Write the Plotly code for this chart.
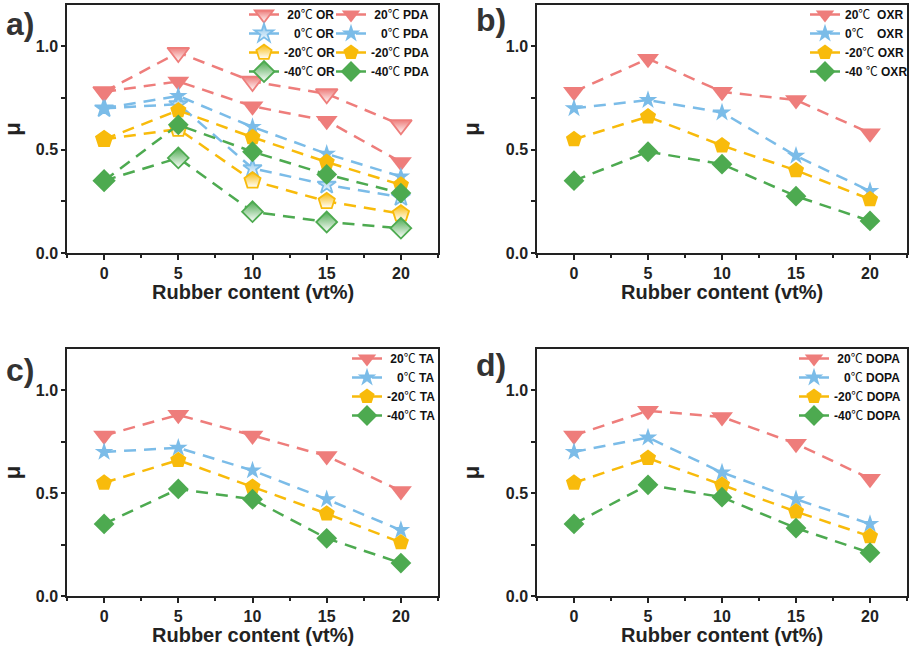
import plotly.graph_objects as go

# ---------------- data ----------------
rubber_content = [0, 5, 10, 15, 20]
x_tick_vals = [0, 5, 10, 15, 20]
y_tick_vals = [0.0, 0.5, 1.0]

# panel a) OR (half-filled markers) and PDA (filled markers)
OR_20 = [0.78, 0.97, 0.83, 0.77, 0.62]
OR_0 = [0.70, 0.72, 0.41, 0.33, 0.27]
OR_m20 = [0.55, 0.60, 0.35, 0.25, 0.19]
OR_m40 = [0.35, 0.46, 0.20, 0.15, 0.12]
PDA_20 = [0.78, 0.83, 0.71, 0.64, 0.44]
PDA_0 = [0.70, 0.76, 0.61, 0.48, 0.37]
PDA_m20 = [0.55, 0.69, 0.56, 0.44, 0.33]
PDA_m40 = [0.35, 0.62, 0.49, 0.38, 0.29]

# panel b) OXR
OXR_20 = [0.78, 0.94, 0.78, 0.74, 0.58]
OXR_0 = [0.70, 0.74, 0.68, 0.47, 0.30]
OXR_m20 = [0.55, 0.66, 0.52, 0.40, 0.26]
OXR_m40 = [0.35, 0.49, 0.43, 0.275, 0.155]

# panel c) TA
TA_20 = [0.78, 0.88, 0.78, 0.68, 0.51]
TA_0 = [0.70, 0.72, 0.61, 0.47, 0.32]
TA_m20 = [0.55, 0.66, 0.53, 0.40, 0.26]
TA_m40 = [0.35, 0.52, 0.47, 0.28, 0.16]

# panel d) DOPA
DOPA_20 = [0.78, 0.90, 0.87, 0.74, 0.57]
DOPA_0 = [0.70, 0.77, 0.60, 0.47, 0.35]
DOPA_m20 = [0.55, 0.67, 0.54, 0.41, 0.29]
DOPA_m40 = [0.35, 0.54, 0.48, 0.33, 0.21]

x_title = "Rubber content (vt%)"
y_title = "μ"
panel_labels = ["a)", "b)", "c)", "d)"]

NB = "\u00a0"
DEG = "<span style=\"font-family:Noto Sans CJK SC;font-weight:normal\">℃</span>"
labels_OR = [NB + "20" + DEG + " OR", NB * 3 + "0" + DEG + " OR", "-20" + DEG + " OR", "-40" + DEG + " OR"]
labels_PDA = [NB + "20" + DEG + " PDA", NB * 3 + "0" + DEG + " PDA", "-20" + DEG + " PDA", "-40" + DEG + " PDA"]
labels_OXR = ["20" + DEG + NB * 2 + "OXR", "0" + DEG + NB * 4 + "OXR", "-20" + DEG + NB + "OXR", "-40 " + DEG + NB + "OXR"]
labels_TA = [NB + "20" + DEG + " TA", NB * 3 + "0" + DEG + " TA", "-20" + DEG + " TA", "-40" + DEG + " TA"]
labels_DOPA = [NB + "20" + DEG + " DOPA", NB * 3 + "0" + DEG + " DOPA", "-20" + DEG + " DOPA", "-40" + DEG + " DOPA"]

# ---------------- style ----------------
colors = ["#EE7D7B", "#7BBCE8", "#F8BB0B", "#4DAA50"]
symbols = ["triangle-down", "star", "pentagon", "diamond"]
sizes = [19, 14, 17, 16]
FONT = "Liberation Sans, Arial, DejaVu Sans, sans-serif"
INK = "#222222"
W, H = 909, 646

fig = go.Figure()


def add_series(series, labels, xa, ya, legend, half=False):
    for i, (vals, name) in enumerate(zip(series, labels)):
        marker = dict(symbol=symbols[i], size=sizes[i], color=colors[i],
                      line=dict(width=0, color=colors[i]))
        if half:
            marker = dict(symbol=symbols[i], size=sizes[i], color=colors[i],
                          gradient=dict(type="vertical", color="white"),
                          line=dict(width=1.8, color=colors[i]))
        fig.add_trace(go.Scatter(
            x=rubber_content, y=vals, name=name, mode="lines+markers",
            line=dict(color=colors[i], width=2.5, dash="12px,8px"),
            marker=marker, xaxis=xa, yaxis=ya, legend=legend,
        ))


add_series([OR_20, OR_0, OR_m20, OR_m40], labels_OR, "x", "y", "legend", half=True)
add_series([PDA_20, PDA_0, PDA_m20, PDA_m40], labels_PDA, "x", "y", "legend2")
add_series([OXR_20, OXR_0, OXR_m20, OXR_m40], labels_OXR, "x2", "y2", "legend3")
add_series([TA_20, TA_0, TA_m20, TA_m40], labels_TA, "x3", "y3", "legend4")
add_series([DOPA_20, DOPA_0, DOPA_m20, DOPA_m40], labels_DOPA, "x4", "y4", "legend5")

# panel geometry in px: (left, right, top, bottom)
panels = [(67, 438, 5, 253), (537, 907, 5, 253), (67, 438, 349, 596), (537, 907, 349, 596)]


def xax(dom, anchor):
    return dict(domain=dom, anchor=anchor, range=[-2.5, 22.5], tickvals=x_tick_vals,
                ticks="outside", ticklen=5, tickwidth=1.5, tickcolor=INK,
                minor=dict(ticks="outside", dtick=2.5, tick0=0, ticklen=3, tickwidth=1.5, tickcolor=INK),
                showline=True, mirror=True, linecolor=INK, linewidth=1.5,
                showgrid=False, zeroline=False, automargin=False,
                tickfont=dict(family=FONT, size=16, color=INK, weight="bold"))


def yax(dom, anchor):
    return dict(domain=dom, anchor=anchor, range=[0, 1.2], tickvals=y_tick_vals, tickformat=".1f",
                ticks="outside", ticklen=4, tickwidth=1.5, tickcolor=INK,
                minor=dict(ticks="outside", dtick=0.25, tick0=0, ticklen=4, tickwidth=1.5, tickcolor=INK),
                showline=True, mirror=True, linecolor=INK, linewidth=1.5,
                showgrid=False, zeroline=False, automargin=False,
                tickfont=dict(family=FONT, size=16, color=INK, weight="bold"),
                title=dict(text=y_title, standoff=20,
                           font=dict(family=FONT, size=22, color=INK, weight="bold")))


layout = dict(width=W, height=H, margin=dict(l=0, r=0, t=0, b=0, autoexpand=False),
              paper_bgcolor="white", plot_bgcolor="white", showlegend=True,
              font=dict(family=FONT, color=INK))
for k, (l, r, t, b) in enumerate(panels):
    sx = "" if k == 0 else str(k + 1)
    xd = [l / W, r / W]
    yd = [1 - b / H, 1 - t / H]
    layout["xaxis" + sx] = xax(xd, "y" + sx)
    layout["yaxis" + sx] = yax(yd, "x" + sx)


def leg(xpx, ypx):
    return dict(x=xpx / W, y=1 - ypx / H, xanchor="left", yanchor="top",
                bgcolor="rgba(0,0,0,0)", borderwidth=0, itemwidth=30, tracegroupgap=0,
                font=dict(family=FONT, size=12, color="#111111", weight="bold"))


layout["legend"] = leg(244, 0)
layout["legend2"] = leg(331, 0)
layout["legend3"] = leg(805, 0)
layout["legend4"] = leg(347, 344)
layout["legend5"] = leg(794, 344)

fig.update_layout(**layout)

# x-axis titles (placed as annotations centred under each panel)
for (l, r, t, b) in panels:
    fig.add_annotation(text=x_title, x=(l + r) / 2 / W, y=1 - (b + 39) / H,
                       xref="paper", yref="paper", xanchor="center", yanchor="middle",
                       showarrow=False,
                       font=dict(family=FONT, size=20, color=INK, weight="bold"))

label_pos = [(4, 24), (474, 20), (4, 370), (474, 365)]
for txt, (px, py) in zip(panel_labels, label_pos):
    fig.add_annotation(text=txt, x=px / W, y=1 - py / H, xref="paper", yref="paper",
                       xanchor="left", yanchor="middle", showarrow=False,
                       font=dict(family=FONT, size=32, color="#333333", weight="bold"))

fig.write_html("out.html", config={"displayModeBar": False},
               post_script="document.body.style.margin='0';document.body.style.overflow='hidden';")
